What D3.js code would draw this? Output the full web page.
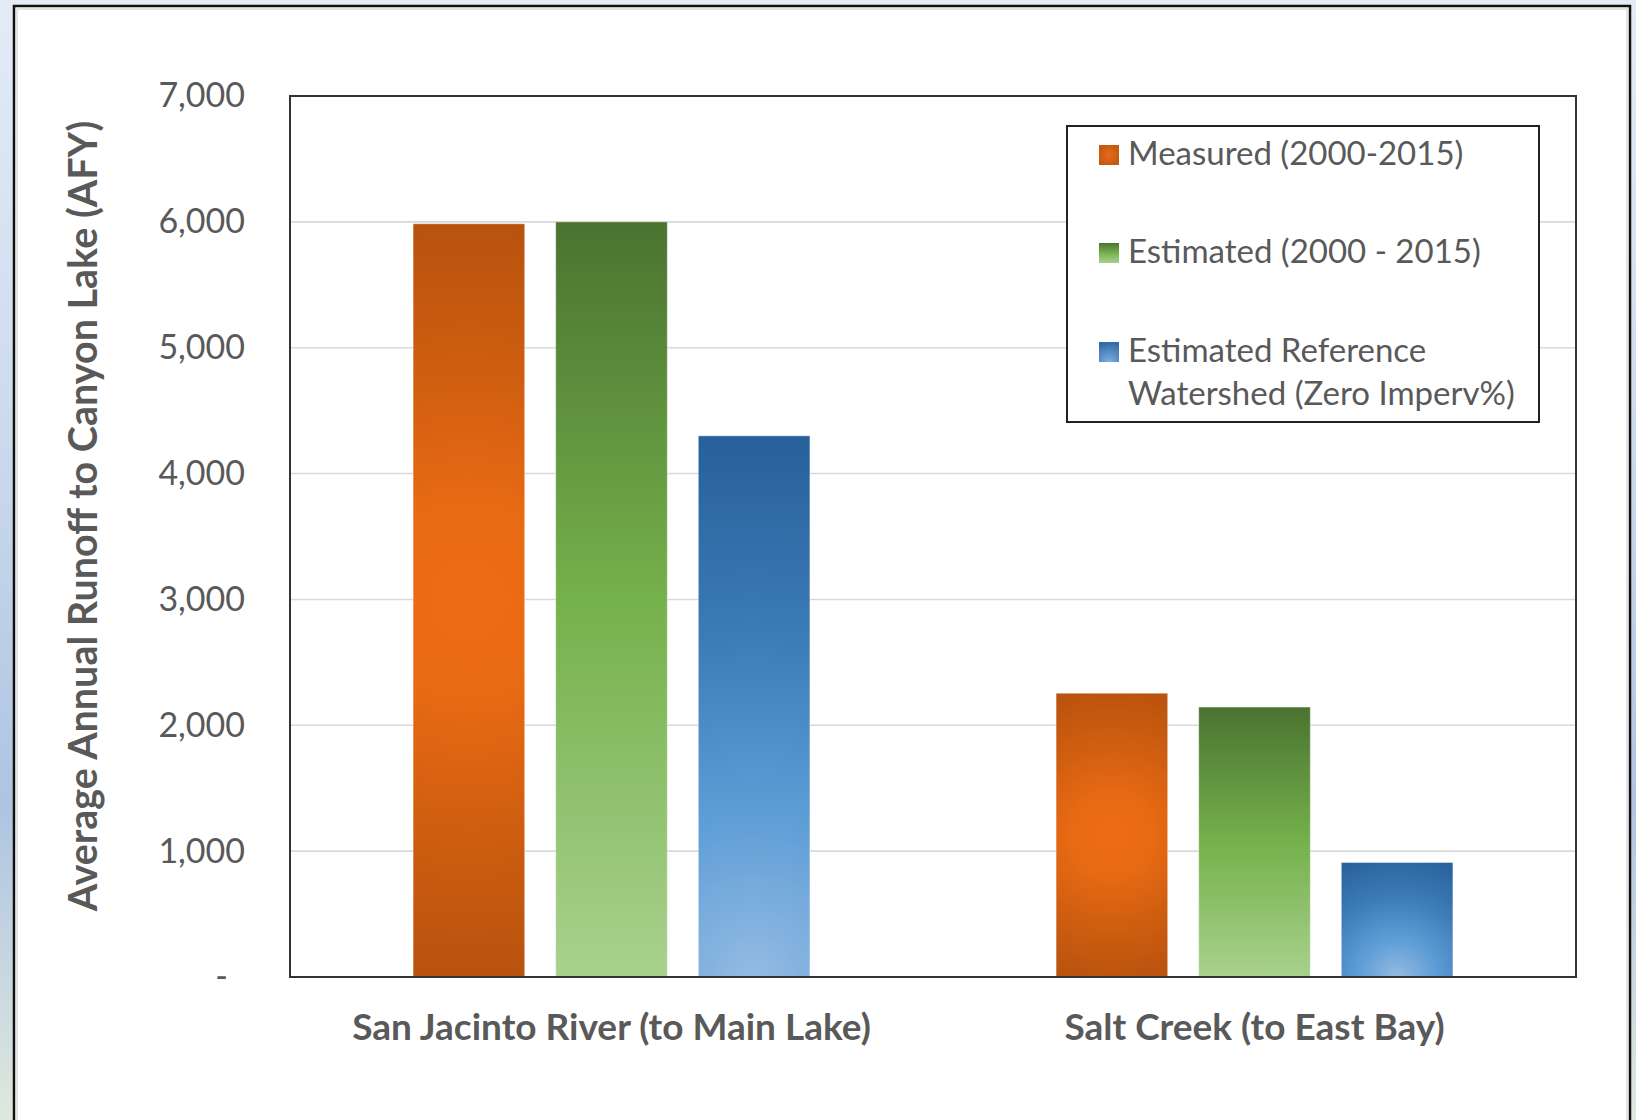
<!DOCTYPE html>
<html>
<head>
<meta charset="utf-8">
<script src="https://cdn.jsdelivr.net/npm/d3@7"></script>
<style>
  html, body { margin: 0; padding: 0; background: #ffffff; }
  svg { display: block; }
  text { font-family: Lato, "Open Sans", sans-serif; fill: #595959; }
</style>
</head>
<body>
<script>
// Average annual runoff to Canyon Lake (acre-feet per year)
const categories = ["San Jacinto River (to Main Lake)", "Salt Creek (to East Bay)"];
const seriesKeys = ["measured", "estimated", "reference"];
const seriesLabels = [
  ["Measured (2000-2015)"],
  ["Estimated (2000 - 2015)"],
  ["Estimated Reference", "Watershed (Zero Imperv%)"]
];
const measured = [5985, 2255];
const estimated = [6000, 2145];
const reference = [4300, 910];
const yTicks = [0, 1000, 2000, 3000, 4000, 5000, 6000, 7000];
const yTitle = "Average Annual Runoff to Canyon Lake (AFY)";

const seriesValues = { measured, estimated, reference };

const W = 1636, H = 1120;
const plot = { left: 290, top: 96, right: 1576, bottom: 977 };

const svg = d3.select("body").append("svg")
  .attr("width", W).attr("height", H);
const defs = svg.append("defs");

// page backdrop behind the chart frame
const bg = defs.append("linearGradient").attr("id", "backdrop")
  .attr("x1", 0).attr("y1", 0).attr("x2", 0).attr("y2", 1);
bg.append("stop").attr("offset", 0).attr("stop-color", "#e3ebf6");
bg.append("stop").attr("offset", 0.35).attr("stop-color", "#cfdcee");
bg.append("stop").attr("offset", 0.72).attr("stop-color", "#afc4e2");
bg.append("stop").attr("offset", 1).attr("stop-color", "#dfe8dd");
svg.append("rect").attr("width", W).attr("height", H).attr("fill", "url(#backdrop)");

// chart frame
svg.append("rect").attr("x", 14).attr("y", 6).attr("width", 1616).attr("height", H + 20)
  .attr("fill", "#ffffff").attr("stroke", "#111111").attr("stroke-width", 2.5);
svg.append("rect").attr("x", 17).attr("y", 9).attr("width", 1610).attr("height", H + 20)
  .attr("fill", "none").attr("stroke", "#dcdcdc").attr("stroke-width", 1.5);

// scales
const y = d3.scaleLinear().domain([0, 7000]).range([plot.bottom, plot.top]);
const x0 = d3.scaleBand().domain(categories).range([plot.left, plot.right]).padding(0);
const x1 = d3.scaleBand().domain(seriesKeys).range([0, x0.bandwidth()])
  .paddingInner(0.217).paddingOuter(0.863);

// gridlines
svg.append("g")
  .selectAll("line")
  .data(yTicks.filter(v => v > 0 && v < 7000))
  .join("line")
  .attr("x1", plot.left).attr("x2", plot.right)
  .attr("y1", d => y(d)).attr("y2", d => y(d))
  .attr("stroke", "#d9d9d9").attr("stroke-width", 1.6);

// fills for each series
function orangeFill(id, cx, cy, r) {
  const g = defs.append("radialGradient").attr("id", id)
    .attr("gradientUnits", "userSpaceOnUse")
    .attr("cx", cx).attr("cy", cy).attr("r", r).attr("fx", cx).attr("fy", cy);
  g.append("stop").attr("offset", 0).attr("stop-color", "#ed6c16");
  g.append("stop").attr("offset", 0.25).attr("stop-color", "#e96a14");
  g.append("stop").attr("offset", 0.6).attr("stop-color", "#cf5e10");
  g.append("stop").attr("offset", 1).attr("stop-color", "#b8520e");
}
function greenFill(id) {
  const g = defs.append("linearGradient").attr("id", id)
    .attr("x1", 0).attr("y1", 0).attr("x2", 0).attr("y2", 1);
  g.append("stop").attr("offset", 0).attr("stop-color", "#4a7330");
  g.append("stop").attr("offset", 0.5).attr("stop-color", "#75b14b");
  g.append("stop").attr("offset", 1).attr("stop-color", "#a9d18e");
}
function blueFill(id, cx, cy, r) {
  const g = defs.append("radialGradient").attr("id", id)
    .attr("gradientUnits", "userSpaceOnUse")
    .attr("cx", cx).attr("cy", cy).attr("r", r).attr("fx", cx).attr("fy", cy);
  g.append("stop").attr("offset", 0).attr("stop-color", "#93bbe3");
  g.append("stop").attr("offset", 0.3).attr("stop-color", "#5e9dd6");
  g.append("stop").attr("offset", 0.62).attr("stop-color", "#3d7cb7");
  g.append("stop").attr("offset", 1).attr("stop-color", "#27609a");
}

const barData = [];
categories.forEach((cat, ci) => {
  seriesKeys.forEach((key) => {
    barData.push({ cat, ci, key, value: seriesValues[key][ci] });
  });
});

barData.forEach(d => {
  const bx = x0(d.cat) + x1(d.key);
  const bw = x1.bandwidth();
  const by = y(d.value);
  const bh = y(0) - by;
  d.id = `fill-${d.key}-${d.ci}`;
  if (d.key === "measured") {
    orangeFill(d.id, bx + bw / 2, by + bh / 2, Math.hypot(bw / 2, bh / 2));
  } else if (d.key === "estimated") {
    greenFill(d.id);
  } else {
    blueFill(d.id, bx + bw / 2, y(0), Math.hypot(bw / 2, bh));
  }
});

// bars
svg.append("g")
  .selectAll("rect")
  .data(barData)
  .join("rect")
  .attr("x", d => x0(d.cat) + x1(d.key))
  .attr("y", d => y(d.value))
  .attr("width", x1.bandwidth())
  .attr("height", d => y(0) - y(d.value))
  .attr("fill", d => `url(#${d.id})`)
  .attr("stroke", "rgba(255,255,255,0.45)")
  .attr("stroke-width", 1);

// plot frame
svg.append("rect")
  .attr("x", plot.left).attr("y", plot.top)
  .attr("width", plot.right - plot.left).attr("height", plot.bottom - plot.top)
  .attr("fill", "none").attr("stroke", "#333333").attr("stroke-width", 2);

// y axis labels
const yAxis = d3.axisLeft(y)
  .tickValues(yTicks)
  .tickSize(0)
  .tickPadding(plot.left - 245)
  .tickFormat(v => v === 0 ? "-" : d3.format(",")(v));
const yg = svg.append("g").attr("transform", `translate(${plot.left},0)`).call(yAxis);
yg.select(".domain").remove();
yg.selectAll("text")
  .attr("font-family", "Lato, 'Open Sans', sans-serif")
  .attr("font-size", 34)
  .attr("fill", "#595959")
  .attr("dx", d => d === 0 ? -17 : 0);

// y axis title
svg.append("text")
  .attr("transform", `translate(97,516) rotate(-90)`)
  .attr("text-anchor", "middle")
  .attr("font-size", 39.5)
  .attr("font-weight", 700)
  .text(yTitle);

// category labels
const xAxis = d3.axisBottom(x0).tickSize(0).tickPadding(0);
const xg = svg.append("g").attr("transform", `translate(0,${plot.bottom})`).call(xAxis);
xg.select(".domain").remove();
xg.selectAll("text")
  .attr("font-family", "Lato, 'Open Sans', sans-serif")
  .attr("font-size", 37)
  .attr("font-weight", 700)
  .attr("fill", "#595959")
  .attr("dy", null)
  .attr("y", 1040 - plot.bottom);

// legend
const legend = svg.append("g");
legend.append("rect")
  .attr("x", 1067).attr("y", 126).attr("width", 472).attr("height", 296)
  .attr("fill", "#ffffff").attr("stroke", "#222222").attr("stroke-width", 2);

const swatchFills = ["legend-m", "legend-e", "legend-r"];
(function () {
  const o = defs.append("radialGradient").attr("id", "legend-m");
  o.append("stop").attr("offset", 0).attr("stop-color", "#ec6b15");
  o.append("stop").attr("offset", 1).attr("stop-color", "#c55a10");
  greenFill("legend-e");
  const b = defs.append("radialGradient").attr("id", "legend-r")
    .attr("cx", 0.5).attr("cy", 1).attr("r", 1);
  b.append("stop").attr("offset", 0).attr("stop-color", "#7fb0e0");
  b.append("stop").attr("offset", 1).attr("stop-color", "#2f6aa5");
})();

const rowTop = [145, 243, 342];
const rows = legend.selectAll("g.row")
  .data(seriesLabels)
  .join("g").attr("class", "row");
rows.append("rect")
  .attr("x", 1099).attr("y", (d, i) => rowTop[i])
  .attr("width", 20).attr("height", 20)
  .attr("fill", (d, i) => `url(#${swatchFills[i]})`);
rows.each(function (lines, i) {
  const t = d3.select(this).append("text")
    .attr("x", 1128).attr("y", rowTop[i] + 20)
    .attr("font-size", 33);
  lines.forEach((line, j) => {
    t.append("tspan").attr("x", 1128).attr("dy", j === 0 ? 0 : 43).text(line);
  });
});
</script>
</body>
</html>
